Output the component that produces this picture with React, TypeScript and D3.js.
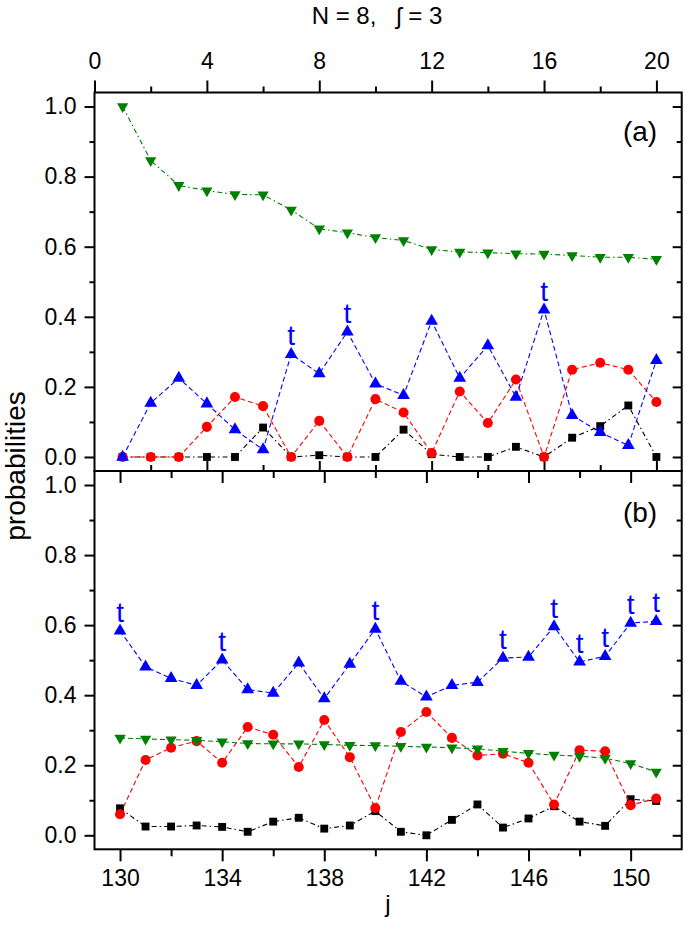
import { useEffect, useRef } from "react";
import * as d3 from "d3";

// panel (a): j = 1..20
const jA = d3.range(1, 21);
const greenA = [1.0, 0.846, 0.775, 0.76, 0.749, 0.748, 0.705, 0.651, 0.64, 0.626, 0.618, 0.592, 0.585, 0.583, 0.58, 0.579, 0.575, 0.57, 0.57, 0.564];
const blueA = [0.0, 0.154, 0.225, 0.152, 0.078, 0.021, 0.293, 0.238, 0.357, 0.209, 0.176, 0.388, 0.225, 0.318, 0.171, 0.42, 0.119, 0.07, 0.033, 0.276];
const redA = [0.0, 0.0, 0.0, 0.086, 0.171, 0.145, 0.0, 0.103, 0.0, 0.165, 0.127, 0.011, 0.187, 0.097, 0.221, 0.0, 0.249, 0.269, 0.249, 0.157];
const blackA = [0.0, 0.0, 0.0, 0.0, 0.0, 0.084, 0.0, 0.005, 0.0, 0.0, 0.078, 0.008, 0.0, 0.0, 0.029, 0.0, 0.055, 0.088, 0.147, 0.0];
const tA = [7, 9, 16];

// panel (b): j = 130..151
const jB = d3.range(130, 152);
const greenB = [0.278, 0.275, 0.273, 0.271, 0.267, 0.262, 0.261, 0.261, 0.259, 0.257, 0.256, 0.254, 0.252, 0.25, 0.247, 0.24, 0.234, 0.229, 0.226, 0.22, 0.205, 0.181];
const blueB = [0.584, 0.481, 0.448, 0.428, 0.501, 0.416, 0.406, 0.492, 0.39, 0.489, 0.589, 0.44, 0.395, 0.428, 0.437, 0.506, 0.509, 0.596, 0.495, 0.511, 0.606, 0.611];
const redB = [0.06, 0.215, 0.25, 0.269, 0.207, 0.309, 0.287, 0.195, 0.329, 0.223, 0.078, 0.295, 0.352, 0.278, 0.228, 0.233, 0.207, 0.088, 0.243, 0.24, 0.086, 0.105];
const blackB = [0.077, 0.025, 0.025, 0.028, 0.024, 0.01, 0.039, 0.05, 0.019, 0.028, 0.069, 0.01, 0.0, 0.044, 0.088, 0.022, 0.048, 0.083, 0.039, 0.027, 0.103, 0.098];
const tB = [130, 134, 140, 145, 147, 148, 149, 150, 151];

const yTicks = [0, 0.2, 0.4, 0.6, 0.8, 1.0];
const yMinor = [0.1, 0.3, 0.5, 0.7, 0.9];
const xTicksA = [0, 4, 8, 12, 16, 20];
const xMinorA = [2, 6, 10, 14, 18];
const xTicksB = [130, 134, 138, 142, 146, 150];
const xMinorB = [132, 136, 140, 144, 148];

const W = 685;
const H = 927;
const left = 94.5;
const right = 681.7;
const topA = 92.5;
const mid = 471;
const botB = 849.3;
const font = "'Liberation Sans', Arial, sans-serif";

const GREEN = "#008000";
const BLUE = "#0000ff";
const RED = "#ff0000";

export default function App() {
    const ref = useRef<SVGSVGElement>(null);

    useEffect(() => {
        const svg = d3.select(ref.current);
        svg.selectAll("*").remove();

        const xA = d3.scaleLinear().domain([0, 20.9]).range([left, right]);
        const xB = d3.scaleLinear().domain([129, 152]).range([left, right]);
        const yA = d3.scaleLinear().domain([-0.04, 1.04]).range([mid, topA]);
        const yB = d3.scaleLinear().domain([-0.04, 1.04]).range([botB, mid]);

        const styleAxis = (g: any) => {
            g.select(".domain").remove();
            g.selectAll("line").attr("stroke", "black").attr("stroke-width", 2);
            g.selectAll("text").attr("font-family", font).attr("font-size", 23).attr("fill", "black");
        };

        const addAxis = (axis: any, tx: number, ty: number) => {
            svg.append("g").attr("transform", `translate(${tx},${ty})`).call(axis).call(styleAxis);
        };

        const fmtY = d3.format(".1f");

        // panel axes
        [yA, yB].forEach((y: any) => {
            addAxis(d3.axisLeft(y).tickValues(yTicks).tickSize(10).tickPadding(8).tickFormat((d: any) => fmtY(d)), left, 0);
            addAxis(d3.axisLeft(y).tickValues(yMinor).tickSize(5).tickFormat(() => ""), left, 0);
            addAxis(d3.axisRight(y).tickValues(yTicks).tickSize(-9).tickFormat(() => ""), right, 0);
            addAxis(d3.axisRight(y).tickValues(yMinor).tickSize(-5).tickFormat(() => ""), right, 0);
        });

        addAxis(d3.axisTop(xA).tickValues(xTicksA).tickSize(12).tickPadding(12), 0, topA);
        addAxis(d3.axisTop(xA).tickValues(xMinorA).tickSize(6).tickFormat(() => ""), 0, topA);
        addAxis(d3.axisBottom(xA).tickValues(xTicksA.filter(v => v > 0)).tickSize(-10).tickFormat(() => ""), 0, mid);
        addAxis(d3.axisBottom(xA).tickValues(xMinorA).tickSize(-6).tickFormat(() => ""), 0, mid);

        addAxis(d3.axisTop(xB).tickValues(xTicksB).tickSize(-12).tickFormat(() => ""), 0, mid);
        addAxis(d3.axisTop(xB).tickValues(xMinorB).tickSize(-7).tickFormat(() => ""), 0, mid);
        addAxis(d3.axisBottom(xB).tickValues(xTicksB).tickSize(12).tickPadding(8), 0, botB);
        addAxis(d3.axisBottom(xB).tickValues(xMinorB).tickSize(7).tickFormat(() => ""), 0, botB);

        // frames
        svg.append("rect").attr("x", left).attr("y", topA).attr("width", right - left).attr("height", mid - topA)
            .attr("fill", "none").attr("stroke", "black").attr("stroke-width", 2);
        svg.append("rect").attr("x", left).attr("y", mid).attr("width", right - left).attr("height", botB - mid)
            .attr("fill", "none").attr("stroke", "black").attr("stroke-width", 2);

        const drawSeries = (x: any, y: any, js: number[], vals: number[], color: string, type: any, size: number, rot: number, dash: string) => {
            const pts = js.map((j, i) => [x(j), y(vals[i])] as [number, number]);
            svg.append("path")
                .attr("d", d3.line()(pts))
                .attr("fill", "none")
                .attr("stroke", color)
                .attr("stroke-width", 1.1)
                .attr("stroke-dasharray", dash);
            svg.append("g").selectAll("path")
                .data(pts)
                .enter()
                .append("path")
                    .attr("d", d3.symbol().type(type).size(size)())
                    .attr("transform", (d) => `translate(${d[0]},${d[1]}) rotate(${rot})`)
                    .attr("fill", color);
        };

        const drawPanel = (x: any, y: any, js: number[], black: number[], red: number[], blue: number[], green: number[], dashGreen: string) => {
            drawSeries(x, y, js, black, "black", d3.symbolSquare, 62, 0, "5,3,1.5,3");
            drawSeries(x, y, js, red, RED, d3.symbolCircle, 80, 0, "5,3");
            drawSeries(x, y, js, blue, BLUE, d3.symbolTriangle, 70, 0, "5,3");
            drawSeries(x, y, js, green, GREEN, d3.symbolTriangle, 55, 180, dashGreen);
        };

        drawPanel(xA, yA, jA, blackA, redA, blueA, greenA, "5,3,1.5,3");
        drawPanel(xB, yB, jB, blackB, redB, blueB, greenB, "5,3");

        const addT = (x: any, y: any, js: number[], vals: number[], marks: number[]) => {
            svg.append("g").selectAll("text")
                .data(marks)
                .enter()
                .append("text")
                    .attr("x", (d) => x(d))
                    .attr("y", (d) => y(vals[js.indexOf(d)]) - 9)
                    .attr("text-anchor", "middle")
                    .attr("font-family", font)
                    .attr("font-size", 28)
                    .attr("fill", BLUE)
                    .text("t");
        };
        addT(xA, yA, jA, blueA, tA);
        addT(xB, yB, jB, blueB, tB);

        // labels
        const label = (txt: string, x: number, y: number, size: number, anchor = "middle") =>
            svg.append("text").attr("x", x).attr("y", y).attr("text-anchor", anchor)
                .attr("font-family", font).attr("font-size", size).attr("fill", "black").text(txt);

        label("(a)", 640, 141, 28);
        label("(b)", 640, 522, 28);
        label("N = 8,   \u0283 = 3", 377, 24, 24).attr("xml:space", "preserve").style("white-space", "pre");
        label("j", 388, 912, 24);
        svg.append("text")
            .attr("transform", `translate(25,466) rotate(-90)`)
            .attr("text-anchor", "middle")
            .attr("font-family", font)
            .attr("font-size", 28)
            .text("probabilities");

        return () => {
            svg.selectAll("*").remove();
        };
    }, [ref]);

    return (
        <svg ref={ref} width={W} height={H} style={{ position: "absolute", left: 0, top: 0, background: "white" }} />
    );
}
